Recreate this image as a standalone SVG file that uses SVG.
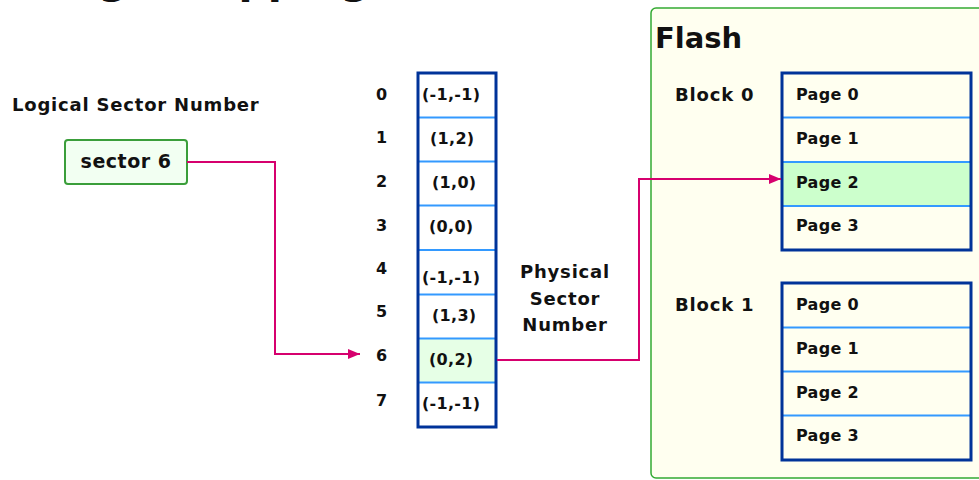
<svg xmlns="http://www.w3.org/2000/svg" width="979" height="480" viewBox="0 0 979 480">
  <defs>
    <marker id="arrow" markerWidth="12" markerHeight="10" refX="12" refY="5" orient="auto" markerUnits="userSpaceOnUse">
      <path d="M0,0 L12,5 L0,10 Z" fill="#d6006e"/>
    </marker>
    <style>
      text { font-family: "DejaVu Sans", Verdana, sans-serif; font-weight: bold; fill: #111; }
      .lbl { font-size: 18px; letter-spacing: 0.8px; }
      .cell { font-size: 16px; letter-spacing: 0.3px; }
      .page { font-size: 16px; letter-spacing: 0.3px; }
      .outer { fill: none; stroke: #003399; stroke-width: 3; }
      .sep { stroke: #3399ff; stroke-width: 2; }
      .link { fill: none; stroke: #d6006e; stroke-width: 2; }
    </style>
  </defs>

  <rect width="979" height="480" fill="#ffffff"/>

  <!-- heading, mostly above the top edge -->
  <text x="42" y="-7.5" font-size="41">Page Mapping</text>

  <!-- logical side -->
  <g id="logical-label">
    <text class="lbl" x="12" y="111">Logical Sector Number</text>
  </g>
  <g id="sector6">
    <rect x="65" y="140" width="122" height="44" rx="3" fill="#f2fff2" stroke="#3a9e3a" stroke-width="2"/>
    <text x="126" y="168" font-size="19" letter-spacing="0.5" text-anchor="middle">sector 6</text>
  </g>

  <!-- mapping table -->
  <g id="table">
    <rect x="418" y="338.5" width="78" height="44" fill="#e6ffe6"/>
    <line class="sep" x1="418" y1="117.5" x2="496" y2="117.5"/>
    <line class="sep" x1="418" y1="161.5" x2="496" y2="161.5"/>
    <line class="sep" x1="418" y1="205.5" x2="496" y2="205.5"/>
    <line class="sep" x1="418" y1="250" x2="496" y2="250"/>
    <line class="sep" x1="418" y1="294.5" x2="496" y2="294.5"/>
    <line class="sep" x1="418" y1="338.5" x2="496" y2="338.5"/>
    <line class="sep" x1="418" y1="382.5" x2="496" y2="382.5"/>
    <rect class="outer" x="418" y="73" width="78" height="354"/>
    <text class="cell" x="422" y="100">(-1,-1)</text>
    <text class="cell" x="430" y="144">(1,2)</text>
    <text class="cell" x="432" y="188">(1,0)</text>
    <text class="cell" x="429" y="232">(0,0)</text>
    <text class="cell" x="422" y="283">(-1,-1)</text>
    <text class="cell" x="432" y="321">(1,3)</text>
    <text class="cell" x="429" y="365">(0,2)</text>
    <text class="cell" x="422" y="409">(-1,-1)</text>
  </g>
  <g id="indices">
    <text class="cell" x="376" y="100">0</text>
    <text class="cell" x="376" y="143">1</text>
    <text class="cell" x="376" y="187">2</text>
    <text class="cell" x="376" y="231">3</text>
    <text class="cell" x="376" y="274">4</text>
    <text class="cell" x="376" y="317">5</text>
    <text class="cell" x="376" y="361">6</text>
    <text class="cell" x="376" y="406">7</text>
  </g>
  <g id="physical-label">
    <text class="lbl" x="565" y="278" text-anchor="middle">Physical</text>
    <text class="lbl" x="565" y="305" text-anchor="middle">Sector</text>
    <text class="lbl" x="565" y="331" text-anchor="middle">Number</text>
  </g>

  <!-- flash device -->
  <g id="flash">
    <rect x="651" y="8" width="340" height="470" rx="5" fill="#fffff0" stroke="#33aa33" stroke-width="1.5"/>
    <text x="655" y="48" font-size="29">Flash</text>
  </g>
  <g id="block0">
    <text class="lbl" x="675" y="101">Block 0</text>
    <rect x="782" y="162" width="189" height="44" fill="#ccffcc"/>
    <line class="sep" x1="782" y1="117.5" x2="971" y2="117.5"/>
    <line class="sep" x1="782" y1="162" x2="971" y2="162"/>
    <line class="sep" x1="782" y1="206" x2="971" y2="206"/>
    <rect class="outer" x="782" y="73" width="189" height="177"/>
    <text class="page" x="796" y="100">Page 0</text>
    <text class="page" x="796" y="144">Page 1</text>
    <text class="page" x="796" y="188">Page 2</text>
    <text class="page" x="796" y="231">Page 3</text>
  </g>
  <g id="block1">
    <text class="lbl" x="675" y="311">Block 1</text>
    <line class="sep" x1="782" y1="327.5" x2="971" y2="327.5"/>
    <line class="sep" x1="782" y1="371.5" x2="971" y2="371.5"/>
    <line class="sep" x1="782" y1="415.5" x2="971" y2="415.5"/>
    <rect class="outer" x="782" y="283" width="189" height="177"/>
    <text class="page" x="796" y="310">Page 0</text>
    <text class="page" x="796" y="354">Page 1</text>
    <text class="page" x="796" y="398">Page 2</text>
    <text class="page" x="796" y="441">Page 3</text>
  </g>

  <!-- connectors -->
  <g id="connectors">
    <polyline class="link" points="187,162 275,162 275,354 360,354" marker-end="url(#arrow)"/>
    <polyline class="link" points="497,360 639,360 639,179 781,179" marker-end="url(#arrow)"/>
  </g>
</svg>
